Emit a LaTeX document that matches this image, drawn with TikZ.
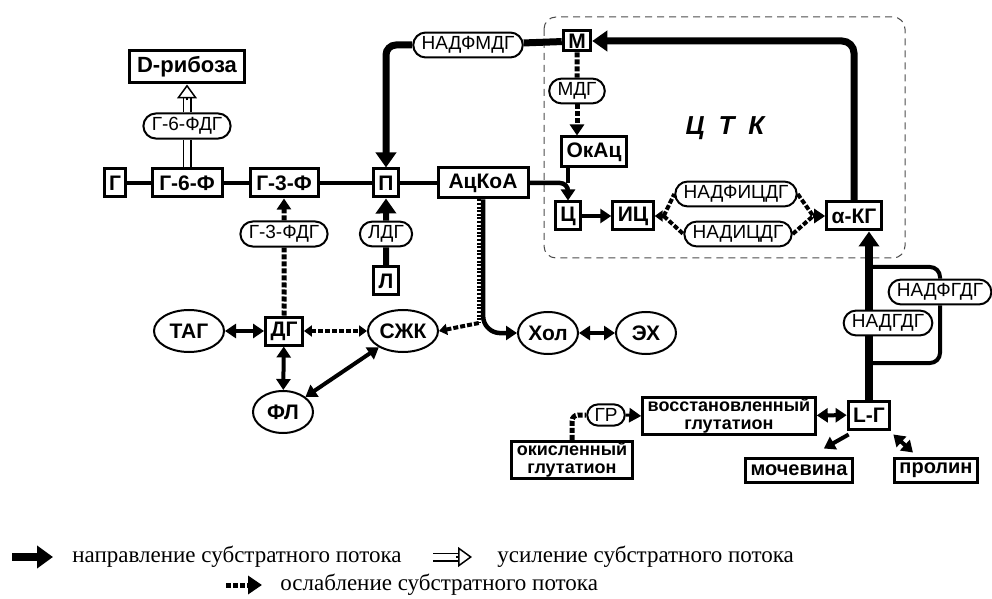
\documentclass[tikz,border=0pt]{standalone}
\usepackage{fontspec}
\setmainfont{Liberation Serif}
\setsansfont{Liberation Sans}
\usetikzlibrary{arrows.meta,positioning,calc,shapes.geometric,shapes.misc}
\tikzset{
  bigtip/.tip={Triangle[width=10pt,length=7.5pt]},
  midtip/.tip={Triangle[width=7pt,length=5.5pt]},
  smalltip/.tip={Triangle[width=5.5pt,length=4pt]},
}

\begin{document}
\begin{tikzpicture}[
    x=0.5pt, y=-0.5pt,
    lbl/.style={font=\sffamily\bfseries\fontsize{10.5}{10.5}\selectfont},
    met/.style={lbl, draw, line width=1.5pt, fill=white, inner xsep=2.5pt, inner ysep=1pt, minimum height=14pt},
    pool/.style={lbl, draw, ellipse, line width=1pt, fill=white, inner sep=0pt, minimum width=30pt, minimum height=21pt},
    enz/.style={draw, rounded rectangle, line width=1pt, fill=white, inner xsep=2.5pt, inner ysep=2pt, font=\sffamily\fontsize{9.5}{10}\selectfont},
    link/.style={line width=2.25pt},
    heavy/.style={line width=3.5pt},
    flow/.style={line width=2pt, -midtip},
    weak/.style={line width=2.5pt, dash pattern=on 2.5pt off 1pt},
    rev/.style={line width=2pt, midtip-midtip},
    hollow/.style={line width=0.75pt, double=white, double distance=3pt},
    hollowtip/.style={line width=0.75pt, -{Triangle[open,width=10pt,length=7pt]}},
    tcabox/.style={draw=black!70, line width=0.5pt, dash pattern=on 3.5pt off 2.5pt, rounded corners=6pt},
    note/.style={font=\fontsize{11.5}{12}\selectfont, anchor=west, inner sep=0pt},
  ]
  \useasboundingbox (0,0) rectangle (992,599);
  \draw[tcabox] (544,17) rectangle (905,258);

  % glycolysis row
  \node[met, font=\sffamily\bfseries\fontsize{11}{12}\selectfont, minimum height=16pt, inner xsep=4pt] (rib) at (187,67) {D-рибоза};
  \node[enz] (g6fdg) at (187,126) {Г-6-ФДГ};
  \node[met] (g) at (115,183) {Г};
  \node[met, minimum width=35pt] (g6f) at (187,183) {Г-6-Ф};
  \node[met, minimum width=34pt] (g3f) at (284,183) {Г-3-Ф};
  \node[met] (p) at (386,183) {П};
  \node[met, minimum width=45pt, minimum height=15pt] (acoa) at (483,183) {АцКоА};
  \node[enz] (nadfmdg) at (468,45) {НАДФМДГ};

  % TCA cycle
  \node[met, minimum height=10pt, inner ysep=0pt] (m) at (577,41) {М};
  \node[enz] (mdg) at (577,91) {МДГ};
  \node[met, minimum height=15pt] (okac) at (594,152) {ОкАц};
  \node[font=\sffamily\bfseries\itshape\fontsize{13}{14}\selectfont] (ctk) at (725,128) {Ц\hspace{7pt}Т\hspace{7pt}К};
  \node[met] (c) at (568,216) {Ц};
  \node[met] (ic) at (633,216) {ИЦ};
  \node[enz] (nadficdg) at (736,194) {НАДФИЦДГ};
  \node[enz] (nadicdg) at (738,234) {НАДИЦДГ};
  \node[met] (akg) at (854,216) {α-КГ};

  % lipids
  \node[enz] (g3fdg) at (284,234) {Г-3-ФДГ};
  \node[enz] (ldg) at (386,234) {ЛДГ};
  \node[met] (l) at (386,281) {Л};
  \node[pool, minimum width=35pt] (tag) at (189,331) {ТАГ};
  \node[met] (dg) at (284,331) {ДГ};
  \node[pool, minimum width=35pt] (szk) at (403,331) {СЖК};
  \node[pool] (fl) at (283,412) {ФЛ};
  \node[pool] (hol) at (548,333) {Хол};
  \node[pool] (eh) at (646,333) {ЭХ};

  % glutamate
  \node[enz] (nadfgdg) at (940,292) {НАДФГДГ};
  \node[enz] (nadgdg) at (888,323) {НАДГДГ};
  \node[met] (lg) at (869,415) {L-Г};
  \node[met, align=center, inner ysep=0.5pt, font=\sffamily\bfseries\fontsize{9}{9}\selectfont] (vg) at (729,416) {восстановленный\\глутатион};
  \node[enz] (gr) at (606,415) {ГР};
  \node[met, align=center, inner ysep=0.5pt, font=\sffamily\bfseries\fontsize{9}{9}\selectfont] (og) at (572,460) {окисленный\\глутатион};
  \node[met, minimum height=12pt, font=\sffamily\bfseries\fontsize{10}{10}\selectfont] (moch) at (799,470) {мочевина};
  \node[met, minimum height=12pt, font=\sffamily\bfseries\fontsize{10}{10}\selectfont] (prol) at (936,470) {пролин};

  % connectors
  \draw[link] (g) -- (g6f);
  \draw[link] (g6f) -- (g3f);
  \draw[link] (g3f) -- (p);
  \draw[link] (p) -- (acoa);
  \draw[hollow] (g6f.north) -- (g6fdg.south);
  \draw[hollow] (g6fdg.north) -- ([yshift=-7pt]rib.south);
  \draw[hollowtip] ([yshift=-8pt]rib.south) -- (rib.south);

  \draw[weak] (dg) -- (g3fdg);
  \draw[weak, -midtip] (g3fdg) -- (g3f);
  \draw[line width=3pt] (l) -- (ldg);
  \draw[line width=3pt, -bigtip] (ldg) -- (p);

  \draw[heavy] (m) -- (nadfmdg);
  \draw[heavy, -bigtip, rounded corners=5pt] (nadfmdg.west) -| (p.north);
  \draw[heavy, -bigtip, rounded corners=6pt] (akg.north) |- (m.east);

  \draw[weak] (m) -- (mdg);
  \draw[weak, -midtip] (mdg.south) -- (mdg.south |- okac.north);
  \draw[link] (okac.south -| c) -- (c.north |- acoa.east);
  \draw[link, -midtip, rounded corners=4pt] (acoa.east) -| (c.north);
  \draw[flow] (c) -- (ic);

  \coordinate (icj) at ($(ic.east)+(9,0)$);
  \coordinate (akgj) at ($(akg.west)+(-12,0)$);
  \draw[weak, line width=2pt, -smalltip] (icj) -- (ic.east);
  \draw[weak, line width=2pt] (icj) -- (nadficdg.west);
  \draw[weak, line width=2pt] (icj) -- (nadicdg.west);
  \draw[weak, line width=2pt] (nadficdg.east) -- (akgj);
  \draw[weak, line width=2pt] (nadicdg.east) -- (akgj);
  \draw[weak, line width=2pt, -midtip] (akgj) -- (akg.west);

  \draw[line width=4pt] (lg.north) -- (lg.north |- nadgdg.south);
  \draw[line width=4pt, -bigtip] (lg.north |- nadgdg.north) -- (lg.north |- akg.south);
  \coordinate (gtop) at (869,267);
  \coordinate (gbot) at (869,363);
  \draw[line width=2pt, rounded corners=5pt] (gtop) -| (nadfgdg.north);
  \draw[line width=2pt, rounded corners=5pt] (nadfgdg.south) |- (gbot);

  \draw[weak, rounded corners=3pt] (og.north) |- (gr.west);
  \draw[line width=1.5pt, -{Triangle[width=7pt,length=6pt]}] (gr.east) -- (vg.west);
  \draw[rev] (vg) -- (lg);
  \draw[flow] ([xshift=1pt,yshift=-2pt]lg.south west) -- ([xshift=-15pt,yshift=4pt]moch.north east);
  \draw[rev] ([xshift=1pt,yshift=-2pt]lg.south east) -- ([xshift=10pt,yshift=2pt]prol.north west);

  \draw[rev] (tag) -- (dg);
  \draw[rev] (dg) -- (fl);
  \draw[rev] (fl) -- (szk);
  \draw[weak, line width=2pt, smalltip-smalltip] (dg) -- (szk);
  \draw[rev] (hol) -- (eh);

  \coordinate (fork) at (481,323);
  \coordinate (forktop) at (fork |- acoa.south);
  \draw[line width=2.25pt, rounded corners=3pt, -midtip] ([xshift=1.1pt]forktop) -- ([xshift=1.1pt]fork) -- ++(10,10) -- (hol.west);
  \draw[line width=2.25pt, dash pattern=on 1pt off 0.8pt] ([xshift=-1.1pt]forktop) -- ([xshift=-1.1pt]fork);
  \draw[weak, line width=2pt, -smalltip] ([xshift=-1.1pt]fork) -- (szk.east);

  % legend
  \coordinate (k1a) at (12,557);
  \coordinate (k1b) at (53,557);
  \draw[line width=4pt, -{Triangle[width=11pt,length=8pt]}] (k1a) -- (k1b);
  \node[note] (k1) at (72,557) {направление субстратного потока};
  \coordinate (k2a) at (433,557);
  \coordinate (k2b) at (472,557);
  \draw[hollow] (k2a) -- ([xshift=-7pt]k2b);
  \draw[hollowtip] ([xshift=-8pt]k2b) -- (k2b);
  \node[note] (k2) at (497,557) {усиление субстратного потока};
  \coordinate (k3a) at (226,585);
  \coordinate (k3b) at (262,585);
  \draw[weak, -{Triangle[width=9pt,length=7pt]}] (k3a) -- (k3b);
  \node[note] (k3) at (280,585) {ослабление субстратного потока};
\end{tikzpicture}
\end{document}
